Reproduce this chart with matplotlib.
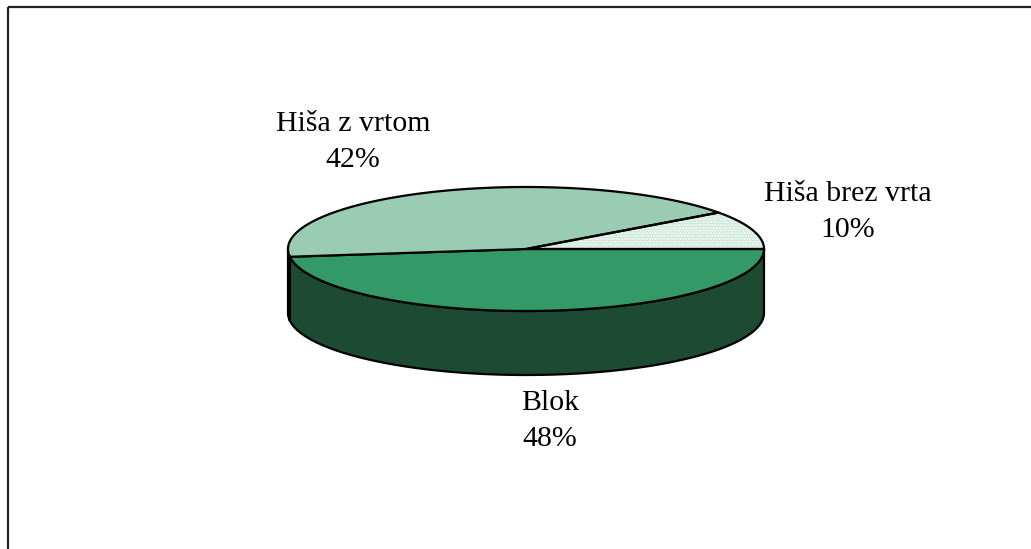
""" Housing type shares shown as a 3D pie. """
import numpy as np
import matplotlib.pyplot as plt
from matplotlib.patches import Polygon, Rectangle

labels = ["Blok", "Hiša z vrtom", "Hiša brez vrta"]
shares = [48, 42, 10]
top_colors = ["#339966", "#99ccb3", "#cce6d8"]
side_colors = ["#1c4a33", "#4c665a", "#778079"]
label_xy = [(550, 421), (353, 142), (848, 212)]

CX, CY = 526, 249
RX, RY = 238, 62
DEPTH = 64


def arc(theta0, theta1, n=200):
    """Points along the top ellipse between two angles (degrees)."""
    t = np.radians(np.linspace(theta0, theta1, n))
    return np.column_stack([CX + RX * np.cos(t), CY - RY * np.sin(t)])


def main() -> None:
    """Draw the chart and save it."""
    plt.rcParams['font.family'] = ['Liberation Serif', 'DejaVu Serif']

    fig = plt.figure(figsize=(10.31, 5.49), dpi=100)
    ax = fig.add_axes([0, 0, 1, 1])
    ax.set_xlim(0, 1031)
    ax.set_ylim(549, 0)
    ax.axis("off")

    # frame around the chart area
    ax.add_patch(Rectangle((8, 7), 1100, 700, fill=False, edgecolor="#222222",
                           linewidth=1.6, zorder=0))

    # slices go clockwise from 3 o'clock
    bounds = np.concatenate([[0], np.cumsum(shares)]) * -3.6
    slices = list(zip(bounds[:-1], bounds[1:]))

    # front walls (only the part of each slice below the centre line)
    for (a0, a1), side in zip(slices, side_colors):
        lo, hi = max(a1, -180), min(a0, 0)
        if lo >= hi:
            continue
        top = arc(hi, lo)
        bottom = top[::-1] + [0, DEPTH]
        ax.add_patch(Polygon(np.vstack([top, bottom]), closed=True,
                             facecolor=side, edgecolor="black",
                             linewidth=1.6, zorder=2))

    # top faces
    for i, ((a0, a1), face) in enumerate(zip(slices, top_colors)):
        pts = np.vstack([[CX, CY], arc(a0, a1), [CX, CY]])
        if labels[i] == "Hiša brez vrta":
            ax.add_patch(Polygon(pts, closed=True, facecolor=face,
                                 edgecolor="#ffffff", hatch="......",
                                 linewidth=0, zorder=3))
            ax.add_patch(Polygon(pts, closed=True, facecolor="none",
                                 edgecolor="black", linewidth=1.6, zorder=4))
        else:
            ax.add_patch(Polygon(pts, closed=True, facecolor=face,
                                 edgecolor="black", linewidth=1.6, zorder=4))

    for name, pct, (x, y) in zip(labels, shares, label_xy):
        ax.text(x, y, f"{name}\n{pct}%", ha="center", va="center",
                fontsize=21.5, linespacing=1.5, color="black")

    fig.savefig("out.png", dpi=100)
    plt.close(fig)


if __name__ == "__main__":
    main()
